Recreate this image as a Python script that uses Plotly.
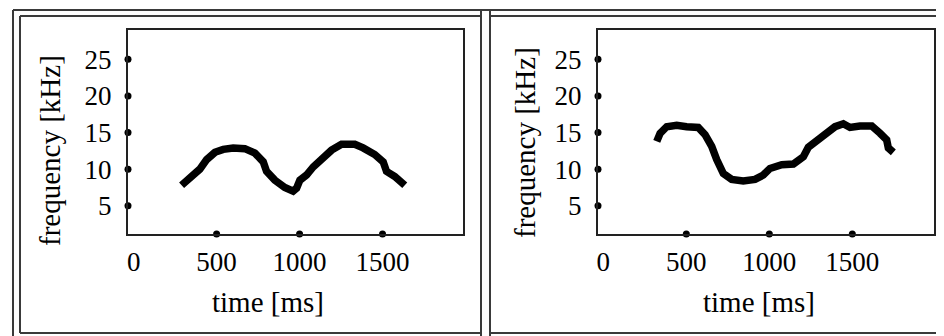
import plotly.graph_objects as go

# The page body has an 8 px margin, so the figure is drawn 8 px smaller and
# all screen positions below are shifted by that offset.
OFF = 8
W, H = 944 - OFF, 336 - OFF

# ---- data ----
left_time = [289, 339, 399, 440, 490, 540, 600, 670, 731, 781, 801, 851, 911, 961, 982,
             1002, 1042, 1082, 1133, 1193, 1253, 1333, 1383, 1453, 1504, 1524, 1574, 1634]
left_freq = [7.8, 8.8, 10.0, 11.3, 12.3, 12.7, 12.9, 12.8, 12.2, 11.0, 9.7, 8.5, 7.5, 7.0, 7.4,
             8.5, 9.2, 10.3, 11.5, 12.6, 13.4, 13.4, 12.9, 12.0, 11.0, 9.7, 9.0, 7.8]

right_time = [322, 342, 382, 442, 502, 572, 613, 653, 683, 723, 773, 843, 914, 964, 1004,
              1075, 1145, 1205, 1235, 1295, 1346, 1396, 1446, 1486, 1546, 1617, 1667, 1707, 1717, 1747]
right_freq = [13.8, 14.9, 15.8, 16.0, 15.8, 15.7, 14.7, 13.1, 11.3, 9.4, 8.6, 8.4, 8.6, 9.2, 10.1,
              10.6, 10.7, 11.7, 13.0, 14.1, 14.9, 15.8, 16.2, 15.7, 15.9, 15.9, 14.9, 14.0, 12.9, 12.3]

x_ticks = [0, 500, 1000, 1500]
x_tick_labels = ["0", "500", "1000", "1500"]
x_dot_ticks = [500, 1000, 1500]
y_ticks = [5, 10, 15, 20, 25]
y_tick_labels = ["5", "10", "15", "20", "25"]

x_title = "time [ms]"
y_title = "frequency [kHz]"

# ---- layout constants ----
FONT = "Liberation Serif, Times New Roman, serif"
left_xrange = [-34, 1985]
right_xrange = [-32, 1992]
yrange = [1.15, 29.0]

def px(x):
    return (x - OFF) / W

def py(y):
    return 1 - (y - OFF) / H

fig = go.Figure()

panels = [
    (left_time, left_freq, left_xrange, "x", "y"),
    (right_time, right_freq, right_xrange, "x2", "y2"),
]
for t, f, xr, xa, ya in panels:
    fig.add_trace(go.Scatter(x=t, y=f, mode="lines", xaxis=xa, yaxis=ya,
                             line=dict(color="black", width=7.5), showlegend=False,
                             hoverinfo="skip"))
    # tick dots on the axes
    fig.add_trace(go.Scatter(x=[xr[0]] * len(y_ticks), y=y_ticks, mode="markers",
                             xaxis=xa, yaxis=ya, cliponaxis=False,
                             marker=dict(color="black", size=7), showlegend=False,
                             hoverinfo="skip"))
    fig.add_trace(go.Scatter(x=x_dot_ticks, y=[yrange[0]] * len(x_dot_ticks), mode="markers",
                             xaxis=xa, yaxis=ya, cliponaxis=False,
                             marker=dict(color="black", size=7), showlegend=False,
                             hoverinfo="skip"))

axis_common = dict(showgrid=False, zeroline=False, showline=True, mirror=True,
                   linecolor="#222222", linewidth=2,
                   ticks="outside", tickcolor="rgba(0,0,0,0)",
                   tickfont=dict(family=FONT, size=27, color="black"))

fig.update_layout(
    width=W, height=H,
    margin=dict(l=0, r=0, t=0, b=0),
    paper_bgcolor="white", plot_bgcolor="white",
    xaxis=dict(domain=[px(128), px(463)], range=left_xrange, anchor="y",
               tickvals=x_ticks, ticktext=x_tick_labels, ticklen=3, **axis_common),
    yaxis=dict(domain=[py(234), py(30)], range=yrange, anchor="x",
               tickvals=y_ticks, ticktext=y_tick_labels, ticklen=9, **axis_common),
    xaxis2=dict(domain=[px(598), px(934)], range=right_xrange, anchor="y2",
                tickvals=x_ticks, ticktext=x_tick_labels, ticklen=3, **axis_common),
    yaxis2=dict(domain=[py(234), py(30)], range=yrange, anchor="x2",
                tickvals=y_ticks, ticktext=y_tick_labels, ticklen=9, **axis_common),
)

title_font = dict(family=FONT, size=29, color="black")
for (xc, yc, txt, ang) in [(50, 151, y_title, -90), (268, 302, x_title, 0),
                           (525, 143, y_title, -90), (759, 302, x_title, 0)]:
    fig.add_annotation(xref="paper", yref="paper", x=px(xc), y=py(yc), text=txt,
                       textangle=ang, showarrow=False, font=title_font,
                       xanchor="center", yanchor="middle")

# panel frames (screen coordinates)
frame = dict(color="#3a3a3a", width=2)
lines = [
    (13, 10, 944, 10),     # outer top
    (13, 10, 13, 336),     # outer left
    (20, 16, 481, 16),     # left panel top
    (20, 16, 20, 333),     # left panel left
    (20, 333, 481, 333),   # left panel bottom
    (481, 10, 481, 336),   # left panel right
    (490, 10, 490, 336),   # right panel left
    (490, 16, 944, 16),    # right panel top
    (490, 333, 944, 333),  # right panel bottom
]
for x0, y0, x1, y1 in lines:
    fig.add_shape(type="line", xref="paper", yref="paper",
                  x0=px(x0), y0=py(y0), x1=px(x1), y1=py(y1), line=frame)

fig.write_html("out.html")
